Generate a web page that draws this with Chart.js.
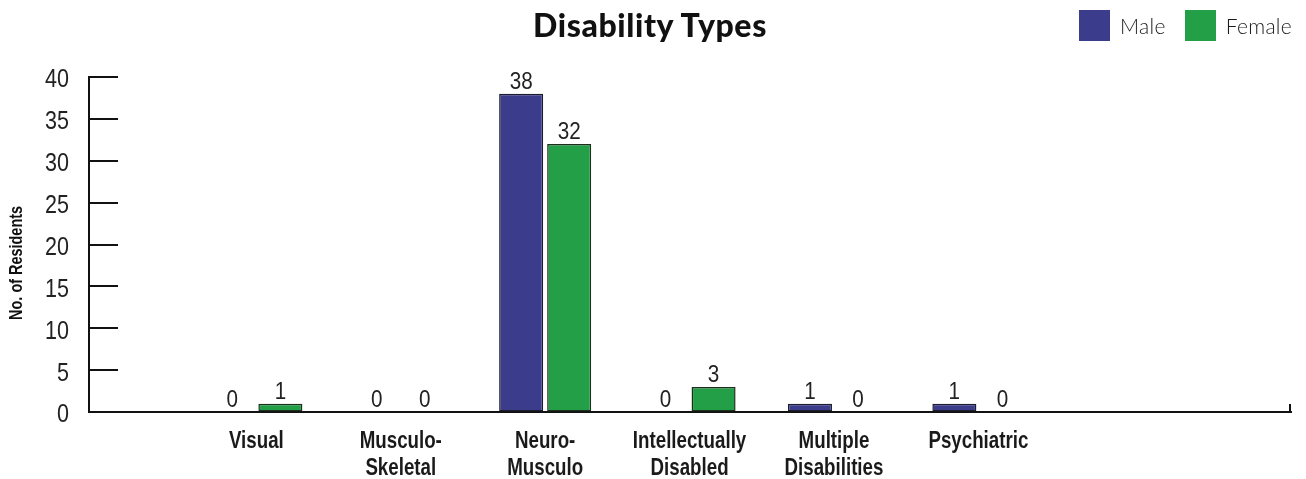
<!DOCTYPE html>
<html>
<head>
<meta charset="utf-8">
<title>Disability Types</title>
<script src="https://cdn.jsdelivr.net/npm/chart.js@4.4.1/dist/chart.umd.min.js"></script>
<style>
  html, body { margin: 0; padding: 0; background: #fff; }
  #wrap { position: relative; width: 1306px; height: 479px; }
  #title {
    position: absolute; left: 0; top: 5px; width: 1300px; text-align: center;
    font-family: Lato, 'Noto Sans', sans-serif; font-weight: 900; font-size: 32px;
    letter-spacing: 0.6px; color: #111;
  }
  #legend { position: absolute; left: 1079px; top: 10px; display: flex; align-items: center; }
  .item { display: flex; align-items: center; margin-right: 19px; }
  .swatch { width: 31px; height: 31px; margin-right: 10px; }
  .label { font-family: Lato, 'Noto Sans', sans-serif; font-weight: 300; font-size: 21px;
           letter-spacing: 0.3px; color: #1a1a1a; }
  canvas { position: absolute; left: 0; top: 0; }
</style>
</head>
<body>
<div id="wrap">
  <canvas id="chart" width="1306" height="479"></canvas>
  <div id="title">Disability Types</div>
  <div id="legend"></div>
</div>
<script>
// Disability categories (each entry holds the lines of its axis label)
const categories = [
  ['Visual'],
  ['Musculo-', 'Skeletal'],
  ['Neuro-', 'Musculo'],
  ['Intellectually', 'Disabled'],
  ['Multiple', 'Disabilities'],
  ['Psychiatric']
];
const male = [0, 0, 38, 0, 1, 1];
const female = [1, 0, 32, 3, 0, 0];
const seriesNames = ['Male', 'Female'];
const seriesColors = ['#3b3c8b', '#239f48'];
const yTicks = [0, 5, 10, 15, 20, 25, 30, 35, 40];
const yTitle = 'No. of Residents';

const sans = "'Liberation Sans', Arial, sans-serif";

// Categories sit at x = 1..n on a linear axis so the axis can run past them
const toPoints = arr => arr.map((v, i) => ({ x: i + 1, y: v }));

// Narrow lettering: a regular face squeezed horizontally
function narrowText(ctx, text, x, y, opts) {
  ctx.save();
  ctx.translate(x, y);
  if (opts.rotate) ctx.rotate(opts.rotate);
  ctx.scale(opts.squeeze, 1);
  ctx.font = opts.font;
  ctx.fillStyle = opts.color || '#222';
  ctx.textAlign = opts.align || 'center';
  ctx.textBaseline = opts.baseline || 'alphabetic';
  ctx.fillText(text, 0, 0);
  ctx.restore();
}

// Value labels above every bar
const valueLabels = {
  id: 'valueLabels',
  afterDatasetsDraw(chart) {
    const ctx = chart.ctx;
    chart.data.datasets.forEach((ds, di) => {
      chart.getDatasetMeta(di).data.forEach((bar, i) => {
        narrowText(ctx, String(ds.data[i].y), bar.x, bar.y - 5,
          { font: '24px ' + sans, squeeze: 0.86, color: '#222' });
      });
    });
  }
};

// Axis lettering and tick marks placed from the scales
const axisDecor = {
  id: 'axisDecor',
  afterDraw(chart) {
    const ctx = chart.ctx;
    const y = chart.scales.y;
    const x = chart.scales.x;
    const area = chart.chartArea;

    // inner tick marks on the value axis and the closing mark at the axis end
    ctx.save();
    ctx.strokeStyle = '#111';
    ctx.lineWidth = 2;
    ctx.beginPath();
    y.ticks.forEach(t => {
      const py = Math.round(y.getPixelForValue(t.value));
      ctx.moveTo(area.left, py);
      ctx.lineTo(area.left + 29, py);
    });
    const ex = x.getPixelForValue(x.max) - 1;
    ctx.moveTo(ex, area.bottom);
    ctx.lineTo(ex, area.bottom - 8);
    ctx.stroke();
    ctx.restore();

    // value axis tick labels
    y.ticks.forEach(t => {
      narrowText(ctx, String(t.value), area.left - 20, y.getPixelForValue(t.value) + 3.5,
        { font: '25px ' + sans, squeeze: 0.86, align: 'right', baseline: 'middle', color: '#222' });
    });

    // value axis title
    narrowText(ctx, yTitle, 16.5, y.getPixelForValue(17.8),
      { font: 'bold 19px ' + sans, squeeze: 0.76, rotate: -Math.PI / 2, baseline: 'middle', color: '#111' });

    // category labels
    x.ticks.forEach(t => {
      const lines = categories[t.value - 1] || [];
      lines.forEach((line, li) => {
        narrowText(ctx, line, x.getPixelForValue(t.value), area.bottom + 36 + li * 27,
          { font: 'bold 24px ' + sans, squeeze: 0.78, color: '#1a1a1a' });
      });
    });
  }
};

const chart = new Chart(document.getElementById('chart'), {
  type: 'bar',
  data: {
    datasets: [
      {
        label: seriesNames[0], data: toPoints(male),
        backgroundColor: seriesColors[0], borderColor: '#1c1c2e', borderWidth: 1.5, borderSkipped: false
      },
      {
        label: seriesNames[1], data: toPoints(female),
        backgroundColor: seriesColors[1], borderColor: '#1c2e1c', borderWidth: 1.5, borderSkipped: false
      }
    ]
  },
  options: {
    responsive: false,
    animation: false,
    layout: { padding: { top: 77, right: 15, bottom: 0, left: 0 } },
    plugins: { legend: { display: false }, title: { display: false }, tooltip: { enabled: false } },
    datasets: { bar: { categoryPercentage: 0.665, barPercentage: 0.917 } },
    scales: {
      x: {
        type: 'linear',
        offset: false,
        min: -0.159,
        max: 8.165,
        afterFit: s => { s.height = 67; },
        afterBuildTicks: s => { s.ticks = categories.map((c, i) => ({ value: i + 1 })); },
        grid: { display: true, drawOnChartArea: false, drawTicks: false, offset: false },
        border: { display: true, color: '#111', width: 2 },
        ticks: { display: false }
      },
      y: {
        min: 0,
        max: 40,
        afterFit: s => { s.width = 89; },
        afterBuildTicks: s => { s.ticks = yTicks.map(v => ({ value: v })); },
        grid: { drawOnChartArea: false, drawTicks: false },
        border: { display: true, color: '#111', width: 2 },
        ticks: { display: false }
      }
    }
  },
  plugins: [valueLabels, axisDecor]
});

// Legend built from the dataset names and colours
const legend = document.getElementById('legend');
chart.data.datasets.forEach(ds => {
  const item = document.createElement('div');
  item.className = 'item';
  const sw = document.createElement('div');
  sw.className = 'swatch';
  sw.style.background = ds.backgroundColor;
  const lb = document.createElement('span');
  lb.className = 'label';
  lb.textContent = ds.label;
  item.appendChild(sw);
  item.appendChild(lb);
  legend.appendChild(item);
});
</script>
</body>
</html>
